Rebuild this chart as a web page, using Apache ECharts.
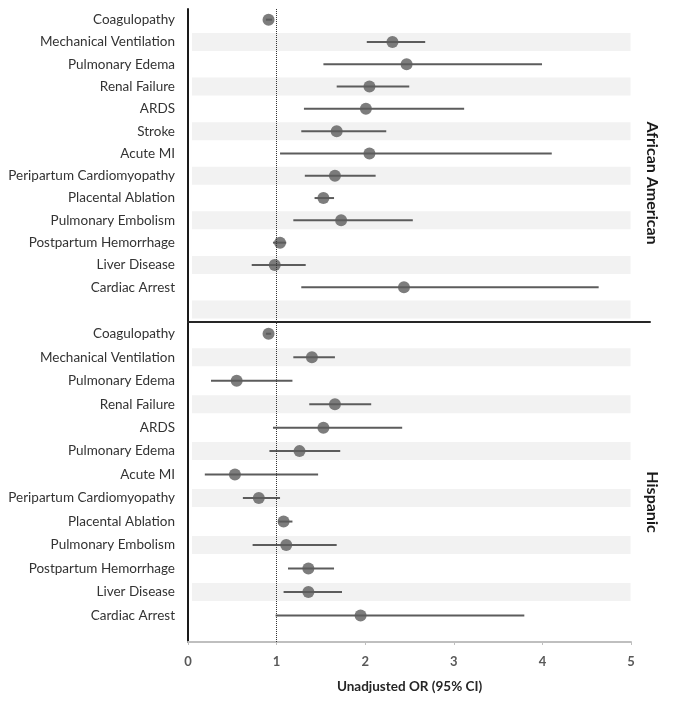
<!DOCTYPE html>
<html>
<head>
<meta charset="utf-8">
<script src="https://cdn.jsdelivr.net/npm/echarts@6/dist/echarts.min.js"></script>
<style>html,body{margin:0;padding:0;background:#fff;}#chart{width:675px;height:706px;}</style>
</head>
<body>
<div id="chart"></div>
<script>
// ---- Data ----
const topCategories = ['Coagulopathy','Mechanical Ventilation','Pulmonary Edema','Renal Failure','ARDS','Stroke','Acute MI','Peripartum Cardiomyopathy','Placental Ablation','Pulmonary Embolism','Postpartum Hemorrhage','Liver Disease','Cardiac Arrest',''];
const topOR   = [0.91, 2.31, 2.47, 2.05, 2.01, 1.68, 2.05, 1.66, 1.53, 1.73, 1.04, 0.98, 2.44];
const topLow  = [0.88, 2.02, 1.53, 1.68, 1.31, 1.28, 1.04, 1.32, 1.43, 1.19, 0.96, 0.72, 1.28];
const topHigh = [0.95, 2.68, 4.00, 2.50, 3.12, 2.24, 4.11, 2.12, 1.65, 2.54, 1.11, 1.33, 4.64];

const botCategories = ['Coagulopathy','Mechanical Ventilation','Pulmonary Edema','Renal Failure','ARDS','Pulmonary Edema','Acute MI','Peripartum Cardiomyopathy','Placental Ablation','Pulmonary Embolism','Postpartum Hemorrhage','Liver Disease','Cardiac Arrest'];
const botOR   = [0.91, 1.40, 0.55, 1.66, 1.53, 1.26, 0.53, 0.80, 1.08, 1.11, 1.36, 1.36, 1.95];
const botLow  = [0.88, 1.19, 0.26, 1.37, 0.96, 0.92, 0.19, 0.62, 1.02, 0.73, 1.13, 1.08, 0.99];
const botHigh = [0.94, 1.66, 1.18, 2.07, 2.42, 1.72, 1.47, 1.04, 1.18, 1.68, 1.65, 1.74, 3.80];

const xTicks = [0, 1, 2, 3, 4, 5];
const groupNames = ['African American', 'Hispanic'];
const xTitle = 'Unadjusted OR (95% CI)';
const refValue = 1;

// ---- Styling ----
const FONT = 'Lato, "Open Sans", sans-serif';
const MARK = '#5c5c5c';
const BAND = '#f2f2f2';

const chart = echarts.init(document.getElementById('chart'), null, {renderer: 'canvas'});

function bandRows(cats) { return cats.map((c, i) => i).filter(i => i % 2 === 1).map(i => [i]); }

function bandSeries(gi, cats) {
  return {
    type: 'custom', xAxisIndex: gi, yAxisIndex: gi, z: 1, silent: true,
    data: bandRows(cats),
    renderItem: function (params, api) {
      const row = api.value(0);
      const a = api.coord([0, row]);
      const b = api.coord([xTicks[xTicks.length - 1], row]);
      return {type: 'rect', shape: {x: a[0] + 4, y: a[1] - 9, width: b[0] - a[0] - 4, height: 18}, style: {fill: BAND}};
    }
  };
}

function ciSeries(gi, low, high) {
  return {
    type: 'custom', xAxisIndex: gi, yAxisIndex: gi, z: 3, silent: true,
    data: low.map((l, i) => [l, high[i], i]),
    renderItem: function (params, api) {
      const a = api.coord([api.value(0), api.value(2)]);
      const b = api.coord([api.value(1), api.value(2)]);
      return {type: 'line', shape: {x1: a[0], y1: a[1], x2: b[0], y2: b[1]}, style: {stroke: MARK, lineWidth: 2}};
    }
  };
}

function dotSeries(gi, or) {
  return {
    type: 'scatter', xAxisIndex: gi, yAxisIndex: gi, z: 4, silent: true,
    symbol: 'circle', symbolSize: 12,
    itemStyle: {color: MARK},
    data: or.map((v, i) => [v, i])
  };
}

const catLabel = {margin: 13, color: '#333333', fontFamily: FONT, fontSize: 13.5, padding: [3, 0, 0, 0]};

const option = {
  animation: false,
  grid: [
    {left: 188, right: 25, top: 8.5, height: 312.2},
    {left: 188, right: 25, top: 322, height: 305.2},
    {left: 188, right: 44, top: 9, bottom: 64}
  ],
  xAxis: [
    {gridIndex: 0, type: 'value', min: 0, max: 5.22, show: false},
    {gridIndex: 1, type: 'value', min: 0, max: 5.22, position: 'top',
     axisLine: {show: true, lineStyle: {color: '#262626', width: 2}},
     axisTick: {show: false}, axisLabel: {show: false}, splitLine: {show: false}},
    {gridIndex: 2, type: 'value', min: 0, max: 5, interval: 1,
     axisLine: {show: true, lineStyle: {color: '#bfbfbf', width: 2}},
     axisTick: {show: true, length: 3, lineStyle: {color: '#bfbfbf'}},
     axisLabel: {margin: 13, color: '#595959', fontFamily: FONT, fontSize: 13, fontWeight: 'bold',
                 formatter: v => xTicks.includes(v) ? String(v) : ''},
     splitLine: {show: false},
     name: xTitle, nameLocation: 'middle', nameGap: 38,
     nameTextStyle: {color: '#262626', fontFamily: FONT, fontSize: 13.5, fontWeight: 'bold'}}
  ],
  yAxis: [
    {gridIndex: 0, type: 'category', inverse: true, data: topCategories,
     axisLine: {show: false}, axisTick: {show: false}, splitLine: {show: false},
     axisLabel: catLabel},
    {gridIndex: 1, type: 'category', inverse: true, data: botCategories,
     axisLine: {show: false}, axisTick: {show: false}, splitLine: {show: false},
     axisLabel: catLabel},
    {gridIndex: 2, type: 'value', min: 0, max: 1,
     axisLine: {show: true, lineStyle: {color: '#1a1a1a', width: 2}},
     axisTick: {show: false}, axisLabel: {show: false}, splitLine: {show: false}}
  ],
  graphic: [
    {type: 'text', x: 652, y: 183, rotation: -Math.PI / 2, z: 10,
     style: {text: groupNames[0], font: 'bold 16px ' + FONT, fill: '#1a1a1a', textAlign: 'center', textVerticalAlign: 'middle'}},
    {type: 'text', x: 652, y: 502, rotation: -Math.PI / 2, z: 10,
     style: {text: groupNames[1], font: 'bold 16px ' + FONT, fill: '#1a1a1a', textAlign: 'center', textVerticalAlign: 'middle'}}
  ],
  series: [
    bandSeries(0, topCategories),
    bandSeries(1, botCategories),
    ciSeries(0, topLow, topHigh),
    ciSeries(1, botLow, botHigh),
    dotSeries(0, topOR),
    dotSeries(1, botOR),
    {type: 'scatter', xAxisIndex: 2, yAxisIndex: 2, data: [], z: 2, silent: true,
     markLine: {silent: true, symbol: 'none', label: {show: false},
       lineStyle: {type: 'dotted', color: '#333333', width: 1},
       data: [{xAxis: refValue}]}}
  ]
};
chart.setOption(option);
</script>
</body>
</html>
